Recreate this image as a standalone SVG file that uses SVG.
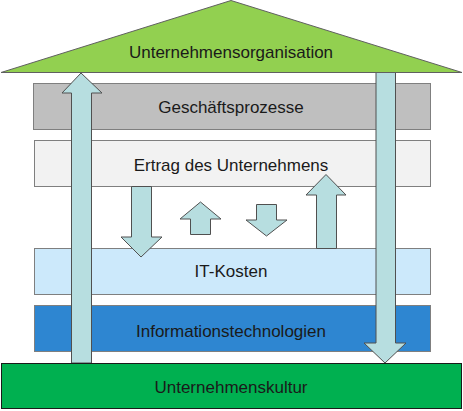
<svg xmlns="http://www.w3.org/2000/svg" width="463" height="411" viewBox="0 0 463 411">
<style>
.layer{stroke:#7f7f7f;stroke-width:1}
.arrow{fill:#b7dee0;stroke:#505050;stroke-width:1;stroke-linejoin:miter}
.lbl{font-family:"Liberation Sans",Arial,sans-serif;font-size:17px;fill:#1a1a1a;text-anchor:middle}
</style>
<rect width="463" height="411" fill="#ffffff"/>
<g id="geschaeftsprozesse">
<rect class="layer" x="33.5" y="83.5" width="397" height="46" fill="#bfbfbf"/>
<text class="lbl" x="231" y="113">Geschäftsprozesse</text>
</g>
<g id="ertrag">
<rect class="layer" x="34.5" y="140.5" width="396" height="46" fill="#f2f2f2"/>
<text class="lbl" x="231" y="171">Ertrag des Unternehmens</text>
</g>
<g id="it-kosten">
<rect class="layer" x="34.5" y="248.5" width="396" height="46" fill="#cce9fb"/>
<text class="lbl" x="231" y="277">IT-Kosten</text>
</g>
<g id="informationstechnologien">
<rect class="layer" x="34.5" y="305.5" width="396" height="46" fill="#2e86d1"/>
<text class="lbl" x="231" y="337">Informationstechnologien</text>
</g>
<g id="connectors">
<polygon class="arrow" points="71.5,363 71.5,93 62,93 81,73 102,93 91.5,93 91.5,363"/>
<polygon class="arrow" points="376,72 395.5,72 395.5,343 406,343 385,363 364,343 376,343"/>
<polygon class="arrow" points="131.5,186.5 151.5,186.5 151.5,237 162,237 141,257 121,237 131.5,237"/>
<polygon class="arrow" points="190.5,234.5 210.5,234.5 210.5,219 221,219 200.5,202 180,219 190.5,219"/>
<polygon class="arrow" points="256.5,204.5 276.5,204.5 276.5,220 287,220 266.5,236 246,220 256.5,220"/>
<polygon class="arrow" points="316.5,248.5 336.5,248.5 336.5,195 346,195 326,174.5 306,195 316.5,195"/>
</g>
<g id="unternehmensorganisation">
<polygon points="1,72.5 462,72.5 231,0.5" fill="#92d050" stroke="#606060" stroke-width="1"/>
<text class="lbl" x="231" y="58">Unternehmensorganisation</text>
</g>
<g id="unternehmenskultur">
<rect x="1.5" y="363.5" width="460" height="45" fill="#00b050" stroke="#1a1a1a" stroke-width="1"/>
<text class="lbl" x="231" y="393">Unternehmenskultur</text>
</g>
</svg>
